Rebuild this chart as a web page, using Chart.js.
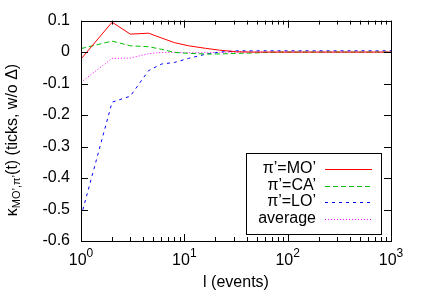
<!DOCTYPE html>
<html>
<head>
<meta charset="utf-8">
<script src="https://cdn.jsdelivr.net/npm/chart.js@4/dist/chart.umd.min.js"></script>
<style>
  html, body { margin: 0; padding: 0; background: #fff; }
</style>
</head>
<body>
<canvas id="chart" width="421" height="295"></canvas>
<script>
// l (events), log-binned
var events = [1, 2, 3, 4.5, 6, 8, 11, 16, 22, 32, 45, 64, 90, 128, 181, 256, 362, 512, 724, 1000];

var kappaMO  = [-0.022, 0.095, 0.057, 0.060, 0.045, 0.030, 0.020, 0.012, 0.006, 0.001, 0, 0, 0, 0, 0, 0, 0, 0, 0, 0];
var kappaCA  = [0.011, 0.035, 0.020, 0.017, 0.009, -0.001, -0.004, -0.006, -0.006, -0.004, -0.003, -0.001, 0, 0, 0, 0, 0, 0, 0, 0];
var kappaLO  = [-0.522, -0.159, -0.140, -0.059, -0.038, -0.033, -0.020, -0.007, 0.000, 0.004, 0.004, 0.004, 0.004, 0.004, 0.004, 0.004, 0.004, 0.004, 0.004, 0.004];
var kappaAvg = [-0.096, -0.020, -0.019, -0.005, -0.001, -0.001, -0.002, -0.002, -0.001, 0, 0, 0, 0, 0, 0, 0, 0, 0, 0, 0];

var seriesLabels = ["\u03c0\u2019=MO\u2019", "\u03c0\u2019=CA\u2019", "\u03c0\u2019=LO\u2019", "average"];
var xTickValues = [1, 10, 100, 1000];
var xTickExponents = ["0", "1", "2", "3"];
var yMin = -0.6, yMax = 0.1, yStep = 0.1;

var FONT = "'Liberation Sans', Arial, Helvetica, sans-serif";

function points(ys) {
    return events.map(function(x, i) { return {x: x, y: ys[i]}; });
}

// gnuplot-style frame, inward ticks, x labels, axis titles and key
var gnuplotDecor = {
    id: 'gnuplotDecor',
    afterDatasetsDraw: function(chart) {
        var ctx = chart.ctx;
        var a = chart.chartArea;
        var xs = chart.scales.x, ys = chart.scales.y;
        ctx.save();
        ctx.strokeStyle = '#000';
        ctx.lineWidth = 1;

        // ticks
        ctx.beginPath();
        for (var v = yMin; v <= yMax + 1e-9; v += yStep) {
            var py = Math.round(ys.getPixelForValue(v)) + 0.5;
            ctx.moveTo(a.left, py); ctx.lineTo(a.left + 7, py);
            ctx.moveTo(a.right, py); ctx.lineTo(a.right - 7, py);
        }
        for (var d = 1; d < 1000; d *= 10) {
            for (var m = 1; m <= 10; m++) {
                var val = d * m;
                var len = (m === 1 || m === 10) ? 7 : 4;
                var px = Math.round(xs.getPixelForValue(val)) + 0.5;
                ctx.moveTo(px, a.bottom); ctx.lineTo(px, a.bottom - len);
                ctx.moveTo(px, a.top); ctx.lineTo(px, a.top + len);
            }
        }
        ctx.stroke();

        // frame
        ctx.strokeRect(Math.round(a.left) + 0.5, Math.round(a.top) + 0.5,
                       Math.round(a.right - a.left), Math.round(a.bottom - a.top));

        // x tick labels 10^n
        ctx.fillStyle = '#000';
        ctx.textBaseline = 'middle';
        ctx.textAlign = 'left';
        xTickValues.forEach(function(val, i) {
            ctx.font = '16px ' + FONT;
            var w1 = ctx.measureText('10').width;
            ctx.font = '12px ' + FONT;
            var w2 = ctx.measureText(xTickExponents[i]).width;
            var x0 = xs.getPixelForValue(val) - (w1 + w2) / 2;
            ctx.font = '16px ' + FONT;
            ctx.fillText('10', x0, 261);
            ctx.font = '12px ' + FONT;
            ctx.fillText(xTickExponents[i], x0 + w1, 254);
        });

        // x title
        ctx.font = '16px ' + FONT;
        ctx.textAlign = 'center';
        ctx.fillText('l (events)', (a.left + a.right) / 2, 283);

        // y title with subscript
        ctx.save();
        ctx.translate(13, 140);
        ctx.rotate(-Math.PI / 2);
        ctx.textAlign = 'left';
        var parts = [['\u03ba', 16, 0], ['MO\u2019,\u03c0\u2019', 11, 4], ['(t) (ticks, w/o \u0394)', 16, 0]];
        var total = 0;
        parts.forEach(function(p) { ctx.font = p[1] + 'px ' + FONT; total += ctx.measureText(p[0]).width; });
        var cx = -total / 2;
        parts.forEach(function(p) {
            ctx.font = p[1] + 'px ' + FONT;
            ctx.fillText(p[0], cx, p[2]);
            cx += ctx.measureText(p[0]).width;
        });
        ctx.restore();

        // key
        ctx.strokeRect(246.5, 153.5, 135, 81);
        ctx.font = '16px ' + FONT;
        ctx.textAlign = 'right';
        chart.data.datasets.forEach(function(ds, i) {
            var ry = 169 + i * 16.5;
            ctx.fillStyle = '#000';
            ctx.fillText(ds.label, 316, ry);
            ctx.save();
            ctx.strokeStyle = ds.borderColor;
            ctx.lineWidth = ds.borderWidth;
            ctx.setLineDash(ds.borderDash || []);
            ctx.beginPath();
            ctx.moveTo(325, Math.round(ry) + 0.5);
            ctx.lineTo(372, Math.round(ry) + 0.5);
            ctx.stroke();
            ctx.restore();
        });
        ctx.restore();
    }
};

var ctx = document.getElementById('chart').getContext('2d');
var chart = new Chart(ctx, {
    type: 'line',
    data: {
        datasets: [
            {label: seriesLabels[0], data: points(kappaMO), borderColor: '#ff0000', borderWidth: 1, borderDash: []},
            {label: seriesLabels[1], data: points(kappaCA), borderColor: '#00c000', borderWidth: 1, borderDash: [5, 3]},
            {label: seriesLabels[2], data: points(kappaLO), borderColor: '#0000ff', borderWidth: 1, borderDash: [3, 4]},
            {label: seriesLabels[3], data: points(kappaAvg), borderColor: '#ff00ff', borderWidth: 1, borderDash: [1, 2]}
        ]
    },
    options: {
        responsive: false,
        animation: false,
        parsing: true,
        elements: {point: {radius: 0}, line: {tension: 0}},
        layout: {padding: {left: 0, top: 19, right: 30, bottom: 0}},
        plugins: {legend: {display: false}, tooltip: {enabled: false}},
        scales: {
            x: {
                type: 'logarithmic', min: 1, max: 1000,
                grid: {display: false, drawTicks: false},
                border: {display: false},
                ticks: {display: false},
                afterFit: function(s) { s.height = 54; }
            },
            y: {
                min: yMin, max: yMax,
                grid: {display: false, drawTicks: false},
                border: {display: false},
                ticks: {
                    stepSize: yStep, padding: 11, color: '#000',
                    font: {family: FONT, size: 16},
                    callback: function(v) { return String(Math.round(v * 10) / 10); }
                },
                afterFit: function(s) { s.width = 81; }
            }
        }
    },
    plugins: [gnuplotDecor]
});
</script>
</body>
</html>
